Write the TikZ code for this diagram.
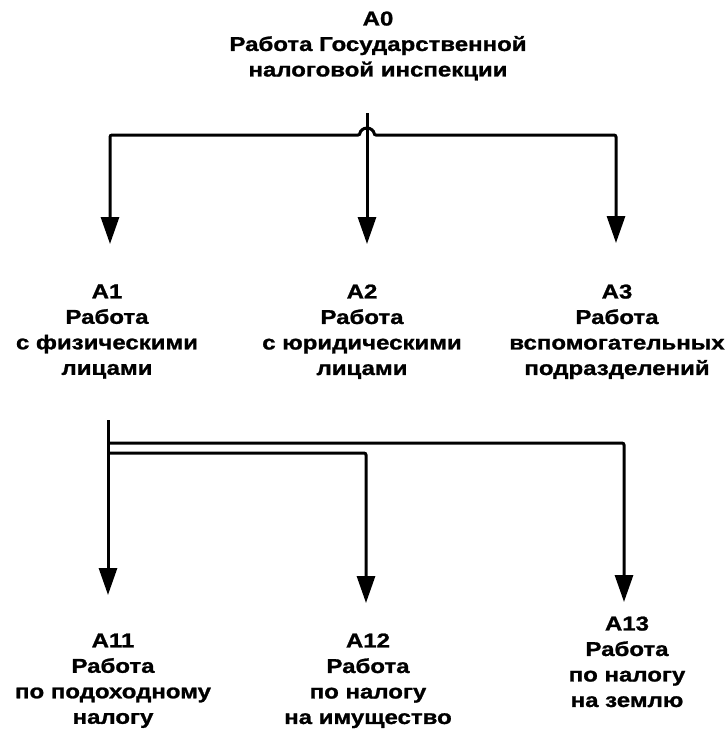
\documentclass[tikz,border=0pt]{standalone}
\usepackage{fontspec}
\setmainfont{Liberation Sans}[FakeStretch=1.2,BoldFeatures={FakeBold=1.2}]
\usetikzlibrary{arrows.meta}
\begin{document}
\begin{tikzpicture}[x=1pt,y=-1pt,
  line width=3pt,
  >={Triangle[width=18pt,length=27pt]},
  lbl/.style={font=\bfseries\fontsize{20}{25.5}\selectfont, align=center, inner sep=0pt, anchor=north},
  conn/.style={line width=3pt, rounded corners=2pt}]
\useasboundingbox (0,0) rectangle (726,734);
% labels
\node[lbl] (a0) at (378,10) {A0\\Работа Государственной\\налоговой инспекции};
\node[lbl] (a1) at (107,283) {A1\\Работа\\с физическими\\лицами};
\node[lbl] (a2) at (362,283) {A2\\Работа\\с юридическими\\лицами};
\node[lbl] (a3) at (617,283) {A3\\Работа\\вспомогательных\\подразделений};
\node[lbl] (a11) at (113,632) {A11\\Работа\\по подоходному\\налогу};
\node[lbl] (a12) at (368,632) {A12\\Работа\\по налогу\\на имущество};
\node[lbl] (a13) at (627,615) {A13\\Работа\\по налогу\\на землю};
% connector points
\coordinate (s0) at (367,113);
\coordinate (hopL) at (360,135);
\coordinate (t1) at (110,244);
\coordinate (t2) at (367,244);
\coordinate (t3) at (616,243);
\coordinate (s1) at (108,420);
\coordinate (b1) at (108,443);
\coordinate (b2) at (108,453);
\coordinate (t11) at (108,595);
\coordinate (t12) at (366,603);
\coordinate (t13) at (624,602);
% top tree
\draw[conn,->] (s0) -- (t2);
\draw[conn,<->] (t1) |- (hopL) arc[start angle=180,end angle=360,radius=7] -| (t3);
% lower tree
\draw[conn,->] (s1) -- (t11);
\draw[conn,->] (b1) -| (t13);
\draw[conn,->] (b2) -| (t12);
\end{tikzpicture}
\end{document}
